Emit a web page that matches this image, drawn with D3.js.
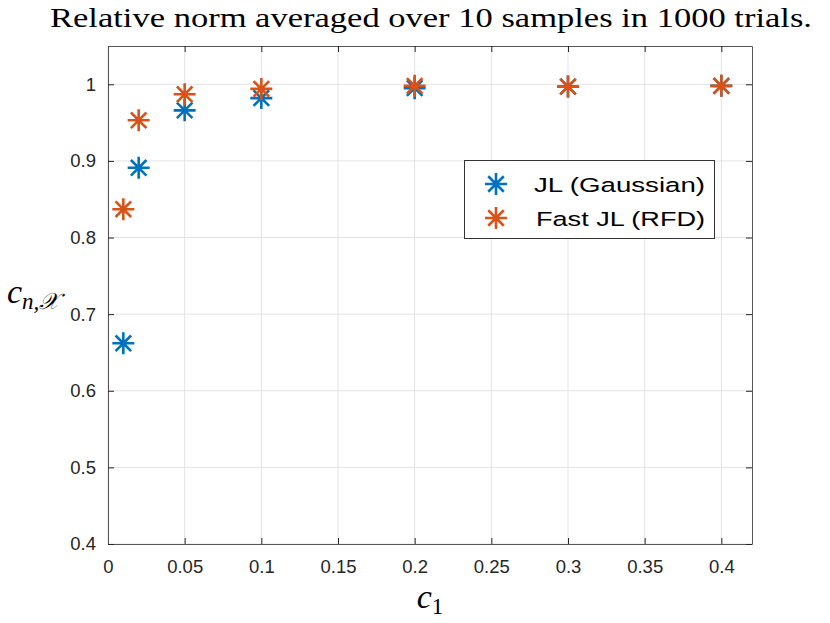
<!DOCTYPE html>
<html>
<head>
<meta charset="utf-8">
<script src="https://cdn.jsdelivr.net/npm/d3@7"></script>
<style>
  body { margin: 0; background: #fff; }
  svg { display: block; }
</style>
</head>
<body>
<div id="chart"></div>
<script>
// data
const c1 = [0.01, 0.02, 0.05, 0.1, 0.2, 0.3, 0.4];
const jlGaussian = [0.662, 0.891, 0.966, 0.982, 0.995, 0.997, 0.998];
const fastJL = [0.837, 0.953, 0.987, 0.994, 0.998, 0.997, 0.998];
const seriesNames = ["JL (Gaussian)", "Fast JL (RFD)"];
const seriesColors = ["#0072BD", "#D95319"];
const xTicks = [0, 0.05, 0.1, 0.15, 0.2, 0.25, 0.3, 0.35, 0.4];
const yTicks = [0.4, 0.5, 0.6, 0.7, 0.8, 0.9, 1];

const W = 830, H = 623;
const m = {left: 108, right: 78, top: 46, bottom: 79};

const svg = d3.select("#chart").append("svg")
    .attr("width", W).attr("height", H);

const x = d3.scaleLinear().domain([0, 0.42]).range([m.left, W - m.right]);
const y = d3.scaleLinear().domain([0.4, 1.05]).range([H - m.bottom, m.top]);

// grid
const grid = svg.append("g").attr("stroke", "#e3e3e3").attr("stroke-width", 1);
grid.selectAll("line.gx").data(xTicks).enter().append("line")
    .attr("x1", d => x(d)).attr("x2", d => x(d))
    .attr("y1", y.range()[0]).attr("y2", y.range()[1]);
grid.selectAll("line.gy").data(yTicks).enter().append("line")
    .attr("y1", d => y(d)).attr("y2", d => y(d))
    .attr("x1", x.range()[0]).attr("x2", x.range()[1]);

// axes (ticks inside, box on)
const tickFmt = d => d3.format("")(+d.toFixed(2));
const axStyle = g => {
    g.select(".domain").attr("stroke", "#555");
    g.selectAll(".tick line").attr("stroke", "#262626");
    g.selectAll("text").attr("font-family", "Liberation Sans, Arial, sans-serif")
        .attr("font-size", 18.5).attr("fill", "#262626");
};
svg.append("g").attr("transform", `translate(0,${y.range()[0]})`)
    .call(d3.axisBottom(x).tickValues(xTicks).tickFormat(tickFmt).tickSizeInner(-6).tickSizeOuter(0).tickPadding(16))
    .call(axStyle);
svg.append("g").attr("transform", `translate(0,${y.range()[1]})`)
    .call(d3.axisTop(x).tickValues(xTicks).tickFormat("").tickSizeInner(-6).tickSizeOuter(0))
    .call(axStyle);
svg.append("g").attr("transform", `translate(${x.range()[0]},0)`)
    .call(d3.axisLeft(y).tickValues(yTicks).tickFormat(tickFmt).tickSizeInner(-6).tickSizeOuter(0).tickPadding(12))
    .call(axStyle);
svg.append("g").attr("transform", `translate(${x.range()[1]},0)`)
    .call(d3.axisRight(y).tickValues(yTicks).tickFormat("").tickSizeInner(-6).tickSizeOuter(0))
    .call(axStyle);

// asterisk marker
function star(g, cx, cy, r, color) {
    const d = r * Math.SQRT1_2;
    const p = `M${cx - r},${cy}H${cx + r}M${cx},${cy - r}V${cy + r}` +
        `M${cx - d},${cy - d}L${cx + d},${cy + d}M${cx - d},${cy + d}L${cx + d},${cy - d}`;
    g.append("path").attr("d", p).attr("stroke", color)
        .attr("stroke-width", 2.6).attr("fill", "none");
}

[jlGaussian, fastJL].forEach((vals, i) => {
    const g = svg.append("g");
    c1.forEach((c, j) => star(g, x(c), y(vals[j]), 11, seriesColors[i]));
});

// legend
const lg = svg.append("g");
lg.append("rect").attr("x", 464.5).attr("y", 160.5).attr("width", 250).attr("height", 78)
    .attr("fill", "#fff").attr("stroke", "#333").attr("stroke-width", 1);
const legendLen = [171, 169];
seriesNames.forEach((name, i) => {
    const yy = 184 + i * 34;
    star(lg, 496, yy, 11, seriesColors[i]);
    lg.append("text").attr("x", 534 + i * 2).attr("y", yy + 7.5)
        .attr("font-family", "Liberation Sans, Arial, sans-serif")
        .attr("font-size", 20.5).attr("fill", "#000")
        .attr("textLength", legendLen[i]).attr("lengthAdjust", "spacingAndGlyphs")
        .text(name);
});

// title
svg.append("text").attr("x", 50).attr("y", 27)
    .attr("font-family", "Liberation Serif, DejaVu Serif, serif")
    .attr("font-size", 27).attr("fill", "#000")
    .attr("textLength", 762).attr("lengthAdjust", "spacingAndGlyphs")
    .text("Relative norm averaged over 10 samples in 1000 trials.");

// x label
const xl = svg.append("text").attr("x", 430).attr("y", 608)
    .attr("text-anchor", "middle")
    .attr("font-family", "Liberation Serif, DejaVu Serif, serif")
    .attr("fill", "#000");
xl.append("tspan").attr("font-style", "italic").attr("font-size", 34).text("c");
xl.append("tspan").attr("font-size", 23).attr("dy", 6).text("1");

// y label
const yl = svg.append("text").attr("x", 7).attr("y", 303)
    .attr("font-family", "Liberation Serif, DejaVu Serif, serif")
    .attr("fill", "#000");
yl.append("tspan").attr("font-style", "italic").attr("font-size", 34).text("c");
yl.append("tspan").attr("font-style", "italic").attr("font-size", 23).attr("dy", 6).text("n,𝒳");
</script>
</body>
</html>
